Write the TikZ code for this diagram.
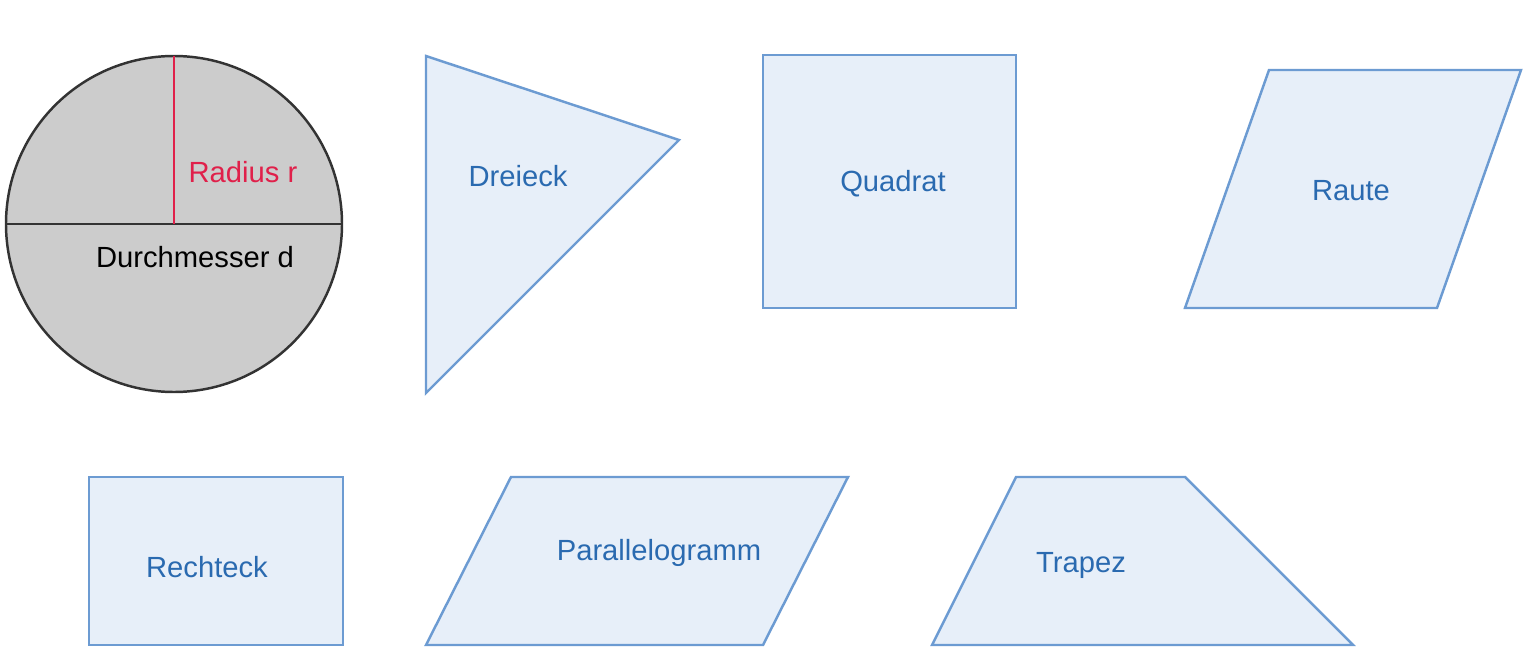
\documentclass[tikz,border=0pt]{standalone}
\usepackage{fontspec}
\setmainfont{Liberation Sans}
\begin{document}
\begin{tikzpicture}[x=0.01cm,y=-0.01cm,
  shp/.style={draw=shapeblue,fill=shapefill,line width=0.7pt},
  lbl/.style={text=textblue,font=\fontsize{8.3}{10}\selectfont},
  line join=miter]
\definecolor{shapeblue}{HTML}{6C9BD2}
\definecolor{shapefill}{HTML}{E7EFF9}
\definecolor{textblue}{HTML}{2A6AB0}
\definecolor{radred}{HTML}{E0204A}
\useasboundingbox (0,0) rectangle (1536,670);
% circle
\draw[fill=black!20,draw=black!80,line width=0.7pt] (174,224) circle[radius=168];
\coordinate (cl) at (6,224); \coordinate (cr) at (342,224);
\coordinate (cc) at (174,224); \coordinate (ct) at (174,56);
\draw[black!80,line width=0.7pt] (cl) -- (cr);
\draw[radred,line width=0.7pt] (ct) -- (cc);
\node[text=radred,font=\fontsize{8.3}{10}\selectfont] (rad) at (243,172) {Radius r};
\node[font=\fontsize{8.3}{10}\selectfont] (dm) at (195,257) {Durchmesser d};
% shapes
\draw[shp] (426,56) -- (679,140) -- (426,393) -- cycle;
\node[lbl] (dreieck) at (518,176) {Dreieck};
\draw[shp] (763,55) rectangle (1016,308);
\node[lbl] (quadrat) at (893,184) {Quadrat};
\draw[shp] (1269,70) -- (1521,70) -- (1437,308) -- (1185,308) -- cycle;
\node[lbl] (raute) at (1351,191) {Raute};
\draw[shp] (89,477) rectangle (343,645);
\node[lbl] (rechteck) at (207,567) {Rechteck};
\draw[shp] (511,477) -- (848,477) -- (763,645) -- (426,645) -- cycle;
\node[lbl] (para) at (659,553) {Parallelogramm};
\draw[shp] (1016,477) -- (1185,477) -- (1353,645) -- (932,645) -- cycle;
\node[lbl] (trapez) at (1081,565) {Trapez};
\end{tikzpicture}
\end{document}
